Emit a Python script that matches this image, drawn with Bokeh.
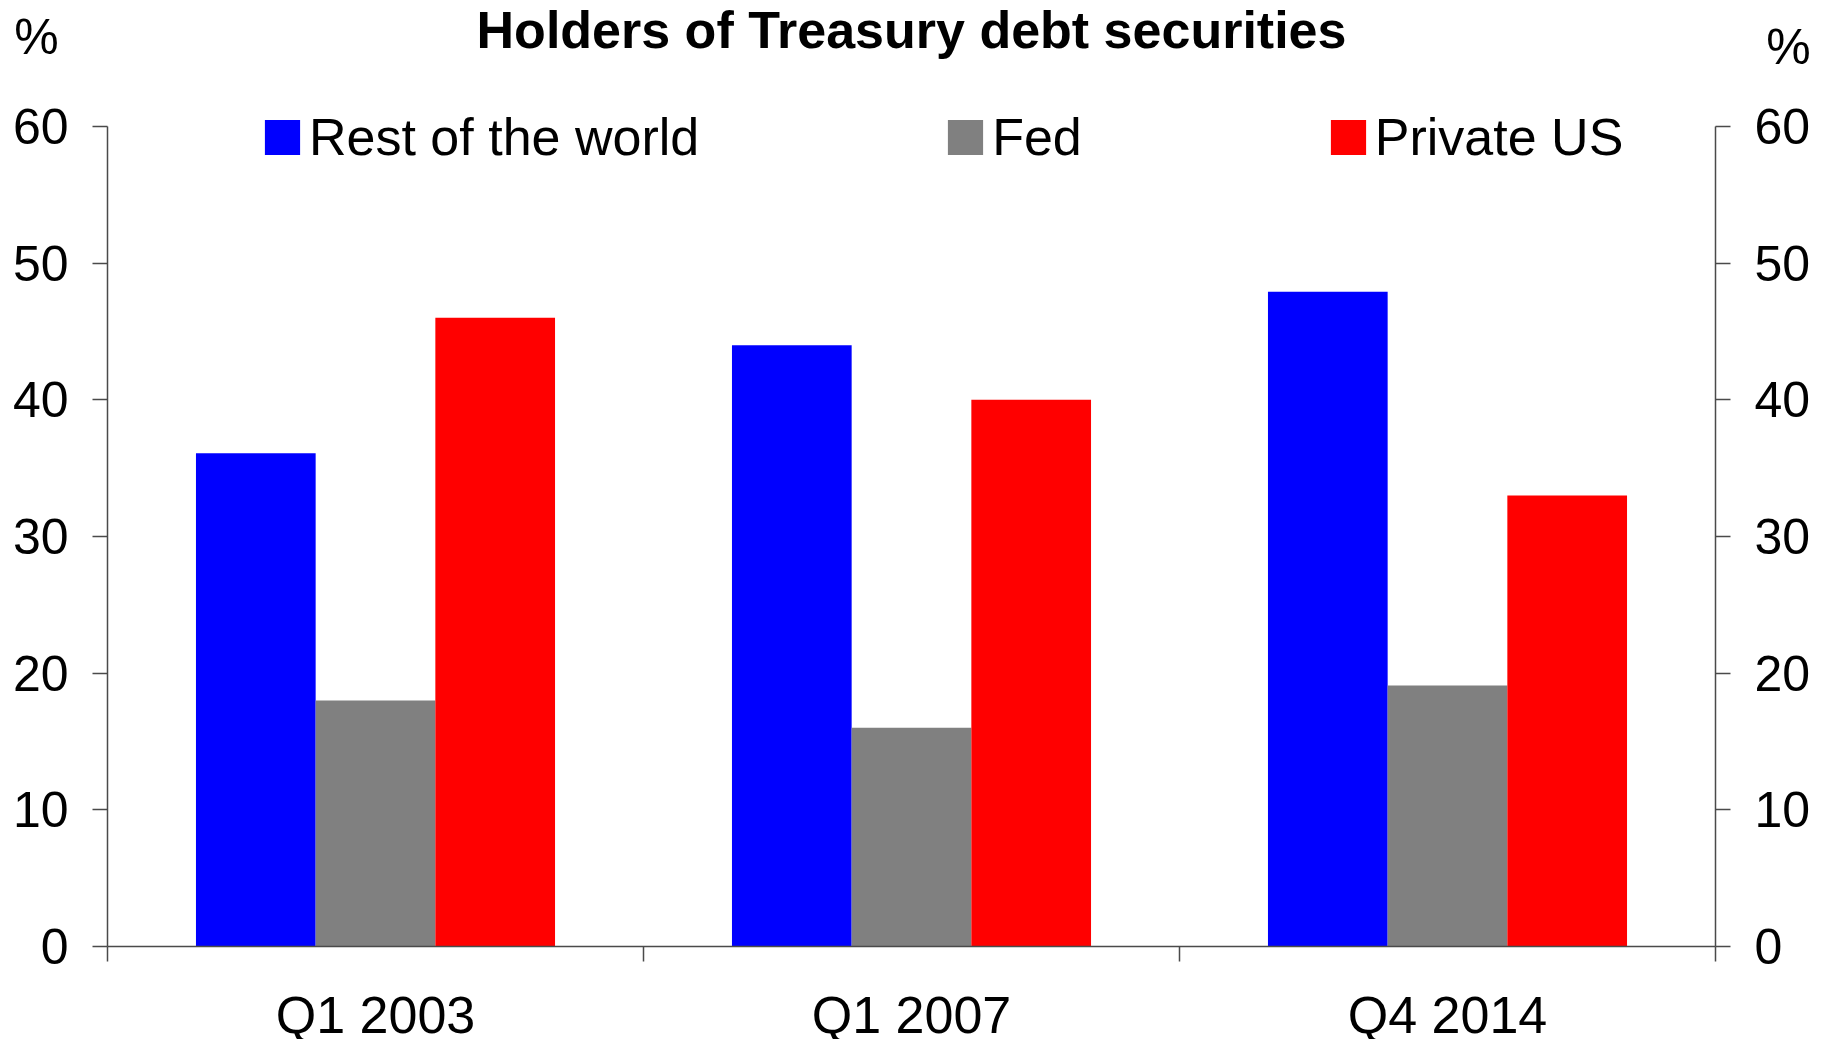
from bokeh.plotting import figure
from bokeh.models import (ColumnDataSource, FactorRange, Range1d, LinearAxis, CategoricalAxis,
                          FixedTicker, Label)
from bokeh.transform import dodge
from bokeh.embed import file_html
from bokeh.resources import INLINE

categories = ["Q1 2003", "Q1 2007", "Q4 2014"]
rest_of_world = [36.1, 44.0, 47.9]
fed = [18.0, 16.0, 19.1]
private_us = [46.0, 40.0, 33.0]
y_ticks = [0, 10, 20, 30, 40, 50, 60]
title_text = "Holders of Treasury debt securities"

FONT = "Liberation Sans"
AXIS_COLOR = "#4a4a4a"

# plot area geometry (pixels): axes at x=107 and 1715, y=0 at 946, y=60 at 126
W, H = 1822, 1039
PX_PER_CAT = 536.0
PX_PER_UNIT = 820.0 / 60
pad = 107 / PX_PER_CAT
y_lo = -(H - 946) / PX_PER_UNIT
y_hi = 60 + 126 / PX_PER_UNIT

src = ColumnDataSource(dict(cat=categories, row=rest_of_world, fed=fed, priv=private_us))

p = figure(width=W, height=H, output_backend="svg", toolbar_location=None,
           x_range=FactorRange(*categories, range_padding=pad, range_padding_units="absolute",
                               factor_padding=0),
           y_range=Range1d(y_lo, y_hi), x_axis_location=None, y_axis_location=None,
           min_border=0)
p.outline_line_color = None
p.xgrid.visible = False
p.ygrid.visible = False
p.background_fill_color = "white"
p.border_fill_color = "white"

bw = 0.2233
p.vbar(x=dodge("cat", -bw, range=p.x_range), top="row", width=bw, source=src,
       fill_color="#0000FF", line_color=None, legend_label="Rest of the world")
p.vbar(x=dodge("cat", 0, range=p.x_range), top="fed", width=bw, source=src,
       fill_color="#808080", line_color=None, legend_label="Fed")
p.vbar(x=dodge("cat", bw, range=p.x_range), top="priv", width=bw, source=src,
       fill_color="#FF0000", line_color=None, legend_label="Private US")

def style_y(ax):
    ax.ticker = FixedTicker(ticks=y_ticks)
    ax.bounds = (0, 60)
    ax.major_tick_out = 15
    ax.major_tick_in = 0
    ax.minor_tick_out = 0
    ax.minor_tick_in = 0
    ax.major_label_standoff = 24
    ax.major_label_text_font = FONT
    ax.major_label_text_font_size = "50px"
    ax.major_label_text_color = "black"
    ax.axis_line_color = AXIS_COLOR
    ax.axis_line_width = 1.5
    ax.major_tick_line_color = AXIS_COLOR
    ax.major_tick_line_width = 1.5

yl = LinearAxis(fixed_location=0)
style_y(yl)
p.add_layout(yl, "left")
yr = LinearAxis(fixed_location=len(categories))
style_y(yr)
p.add_layout(yr, "right")

# category boundary ticks (synthetic coordinates of the factor range)
xb = LinearAxis(fixed_location=0, ticker=FixedTicker(ticks=list(range(len(categories) + 1))))
xb.bounds = (0, len(categories))
xb.major_tick_out = 15
xb.major_tick_in = 0
xb.minor_tick_out = 0
xb.minor_tick_in = 0
xb.major_label_overrides = {i: "" for i in range(len(categories) + 1)}
xb.major_label_text_font_size = "1px"
xb.major_label_standoff = 0
xb.axis_line_color = AXIS_COLOR
xb.axis_line_width = 1.5
xb.major_tick_line_color = AXIS_COLOR
xb.major_tick_line_width = 1.5
p.add_layout(xb, "below")

# category names: a categorical axis pinned at y=0
xc = CategoricalAxis(fixed_location=0)
xc.major_tick_out = 0
xc.major_tick_in = 0
xc.axis_line_color = None
xc.major_tick_line_color = None
xc.major_label_standoff = 39
xc.major_label_text_font = FONT
xc.major_label_text_font_size = "52px"
xc.major_label_text_color = "black"
p.add_layout(xc, "below")

# title and % markers
p.add_layout(Label(x=1.5, y=60 + (126 - 29) / PX_PER_UNIT, text=title_text, text_align="center",
                   text_baseline="middle", text_font=FONT, text_font_size="52px",
                   text_font_style="bold", text_color="black"))
p.add_layout(Label(x=-0.1325, y=60 + (126 - 36) / PX_PER_UNIT, text="%", text_align="center",
                   text_baseline="middle", text_font=FONT, text_font_size="50px", text_color="black"))
p.add_layout(Label(x=3.136, y=60 + (126 - 46) / PX_PER_UNIT, text="%", text_align="center",
                   text_baseline="middle", text_font=FONT, text_font_size="50px", text_color="black"))

lg = p.legend[0]
lg.orientation = "horizontal"
lg.location = (260, 872)
lg.padding = 0
lg.margin = 0
lg.spacing = 244
lg.glyph_width = 44
lg.glyph_height = 44
lg.label_standoff = 5
lg.label_text_font = FONT
lg.label_text_font_size = "52px"
lg.label_text_color = "black"
lg.background_fill_alpha = 0
lg.border_line_color = None

open("out.html", "w").write(file_html(p, INLINE))
